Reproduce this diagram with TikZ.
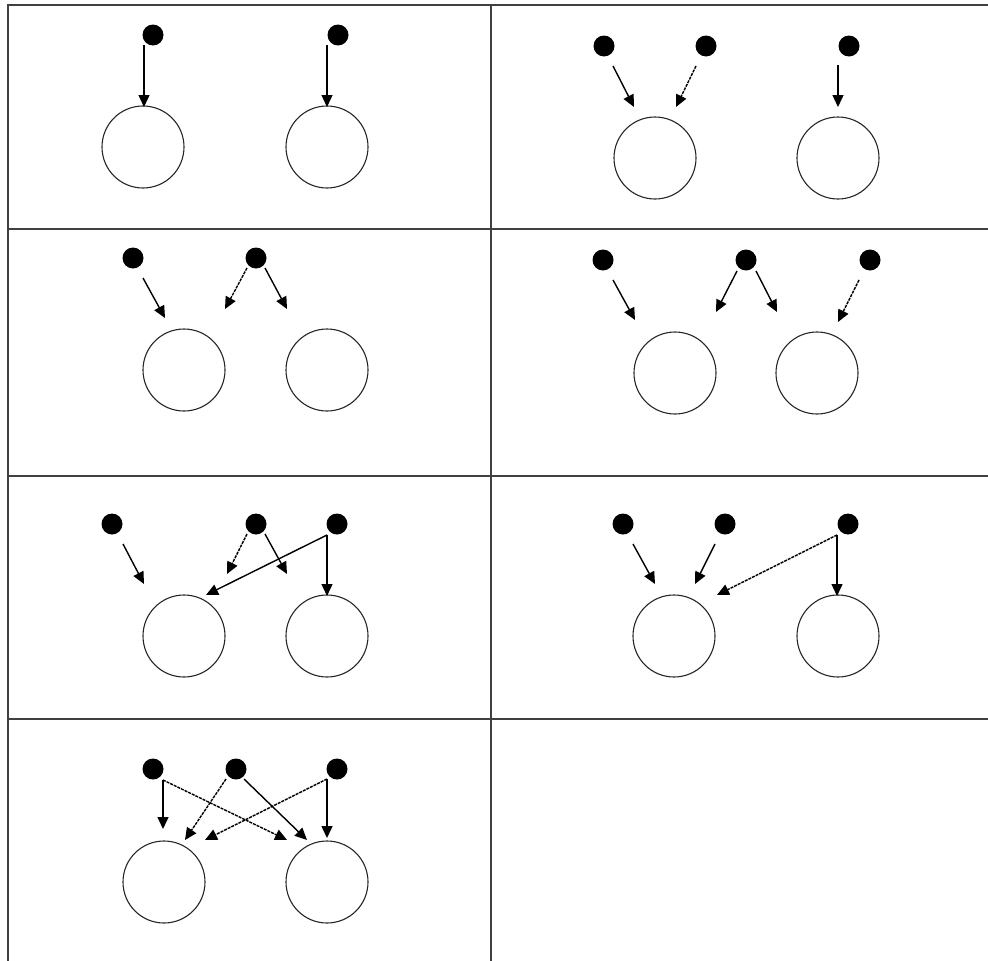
\documentclass[tikz,border=0pt]{standalone}
\usetikzlibrary{arrows.meta}
\begin{document}
\begin{tikzpicture}[x=1pt,y=-1pt,
  dot/.style={circle,fill=black,inner sep=0pt,minimum size=21pt},
  unit/.style={circle,draw=black!85,line width=1.1pt,inner sep=0pt,minimum size=82pt},
  arr/.style={line width=1.4pt,-{Triangle[length=12pt,width=11pt]}},
  darr/.style={arr,dash pattern=on 3pt off 1pt},
  grid/.style={line width=1.5pt,draw=black!75}]
\useasboundingbox (0,0) rectangle (988,961);
% table
\draw[grid] (8,961) -- (8,5) -- (990,5);
\draw[grid] (8,229) -- (990,229);
\draw[grid] (8,476) -- (990,476);
\draw[grid] (8,719) -- (990,719);
\draw[grid] (491,5) -- (491,961);
% panel 1
\node[dot] (d11) at (153,35) {};
\node[dot] (d12) at (338,35) {};
\node[unit] (c11) at (143,147) {};
\node[unit] (c12) at (327,147) {};
\coordinate (t11) at (144,45); \coordinate (h11) at (144,107);
\coordinate (t12) at (327,45); \coordinate (h12) at (327,107);
\draw[arr] (t11) -- (h11);
\draw[arr] (t12) -- (h12);
% panel 2
\node[dot] (d21) at (604,46) {};
\node[dot] (d22) at (706,46) {};
\node[dot] (d23) at (849,46) {};
\node[unit] (c21) at (655,158) {};
\node[unit] (c22) at (838,158) {};
\coordinate (t21) at (613,66); \coordinate (h21) at (634,107);
\coordinate (t22) at (696,66); \coordinate (h22) at (676,107);
\coordinate (t23) at (838,65); \coordinate (h23) at (838,107);
\draw[arr] (t21) -- (h21);
\draw[darr] (t22) -- (h22);
\draw[arr] (t23) -- (h23);
% panel 3
\node[dot] (d31) at (133,258) {};
\node[dot] (d32) at (256,258) {};
\node[unit] (c31) at (184,370) {};
\node[unit] (c32) at (327,370) {};
\coordinate (t31) at (143,278); \coordinate (h31) at (165,318);
\coordinate (t32) at (247,268); \coordinate (h32) at (225,309);
\coordinate (t33) at (265,268); \coordinate (h33) at (287,309);
\draw[arr] (t31) -- (h31);
\draw[darr] (t32) -- (h32);
\draw[arr] (t33) -- (h33);
% panel 4
\node[dot] (d41) at (603,260) {};
\node[dot] (d42) at (746,260) {};
\node[dot] (d43) at (870,260) {};
\node[unit] (c41) at (675,373) {};
\node[unit] (c42) at (817,373) {};
\coordinate (t41) at (613,280); \coordinate (h41) at (635,320);
\coordinate (t42) at (737,271); \coordinate (h42) at (716,312);
\coordinate (t43) at (756,271); \coordinate (h43) at (777,312);
\coordinate (t44) at (859,280); \coordinate (h44) at (838,322);
\draw[arr] (t41) -- (h41);
\draw[arr] (t42) -- (h42);
\draw[arr] (t43) -- (h43);
\draw[darr] (t44) -- (h44);
% panel 5
\node[dot] (d51) at (112,524) {};
\node[dot] (d52) at (256,524) {};
\node[dot] (d53) at (337,524) {};
\node[unit] (c51) at (184,636) {};
\node[unit] (c52) at (327,636) {};
\coordinate (t51) at (123,544); \coordinate (h51) at (144,584);
\coordinate (t52) at (247,534); \coordinate (h52) at (227,574);
\coordinate (t53) at (265,534); \coordinate (h53) at (287,574);
\coordinate (t54) at (327,535); \coordinate (h54) at (206,595);
\coordinate (h55) at (327,596);
\draw[arr] (t51) -- (h51);
\draw[darr] (t52) -- (h52);
\draw[arr] (t53) -- (h53);
\draw[arr] (t54) -- (h54);
\draw[arr] (t54) -- (h55);
% panel 6
\node[dot] (d61) at (623,524) {};
\node[dot] (d62) at (725,524) {};
\node[dot] (d63) at (848,524) {};
\node[unit] (c61) at (674,636) {};
\node[unit] (c62) at (838,636) {};
\coordinate (t61) at (633,544); \coordinate (h61) at (655,584);
\coordinate (t62) at (715,544); \coordinate (h62) at (695,584);
\coordinate (t63) at (837,535); \coordinate (h63) at (717,595);
\coordinate (h64) at (837,596);
\draw[arr] (t61) -- (h61);
\draw[arr] (t62) -- (h62);
\draw[darr] (t63) -- (h63);
\draw[arr] (t63) -- (h64);
% panel 7
\node[dot] (d71) at (153,769) {};
\node[dot] (d72) at (236,769) {};
\node[dot] (d73) at (337,769) {};
\node[unit] (c71) at (164,882) {};
\node[unit] (c72) at (327,882) {};
\coordinate (t71) at (163,780); \coordinate (h71) at (163,829);
\coordinate (h72) at (287,840);
\coordinate (t73) at (226,779); \coordinate (h73) at (185,840);
\coordinate (t74) at (244,779); \coordinate (h74) at (307,840);
\coordinate (t75) at (327,779); \coordinate (h75) at (205,840);
\coordinate (h76) at (327,838);
\draw[arr] (t71) -- (h71);
\draw[darr] (t71) -- (h72);
\draw[darr] (t73) -- (h73);
\draw[arr] (t74) -- (h74);
\draw[darr] (t75) -- (h75);
\draw[arr] (t75) -- (h76);
\end{tikzpicture}
\end{document}
